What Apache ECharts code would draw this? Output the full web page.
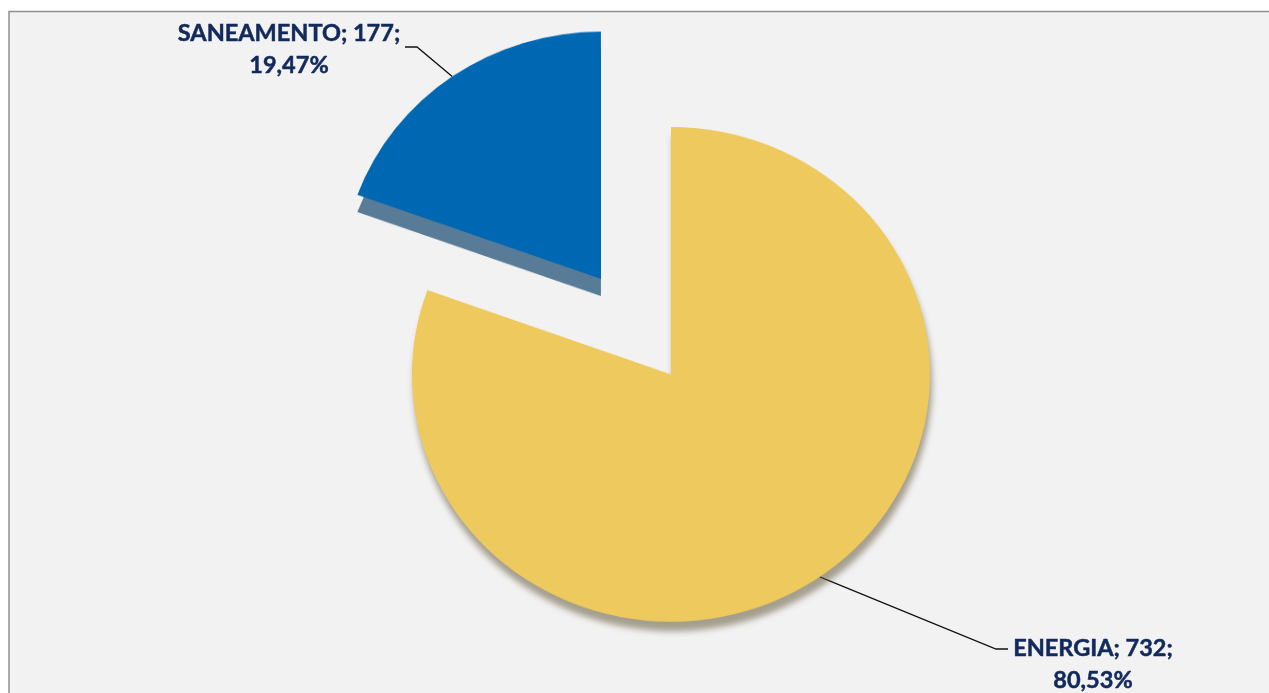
<!DOCTYPE html>
<html>
<head>
<meta charset="utf-8">
<script src="https://cdn.jsdelivr.net/npm/echarts@6/dist/echarts.min.js"></script>
<style>
  html, body { margin: 0; padding: 0; background: #ffffff; overflow: hidden; }
  .layer { position: absolute; left: 0; top: 0; width: 1269px; height: 693px; }
  /* the pie is drawn slightly flattened, as a tilted disc */
  #pie { transform: scaleY(0.955); transform-origin: 0 0; }
</style>
</head>
<body>
<div id="labels" class="layer"></div>
<div id="pie" class="layer"></div>
<script>
// Segment totals
const categories = ['ENERGIA', 'SANEAMENTO'];
const values = [732, 177];

// Pie geometry and look (pie coordinates, before the vertical flattening)
const TILT = 0.955;
const CX = 671, CY = 392, R = 259;
const EXPLODE = 122;      // offset of the pulled-out slice
const DEPTH = 18;         // visible thickness of the pulled-out slice
const START_ANGLE = 90;
const topColors = ['#EDC95E', '#0068B2'];
const sideColors = ['rgba(0,0,0,0)', '#587C98'];
const labelColor = '#12295C';
const labelFont = 'bold 23.5px Lato, "Open Sans", sans-serif';

// Label anchors (centre of each two-line label) and the elbow of its leader line
const labelBoxes = [
  { x: 1093, y: 664, elbow: [996, 649], end: [1008, 649] },
  { x: 289, y: 49, elbow: [417, 47], end: [405, 47] }
];

const total = values.reduce((a, b) => a + b, 0);
const pct = v => (v / total * 100).toFixed(2).replace('.', ',') + '%';

function sliceData(colors, withShadow) {
  return categories.map((name, i) => ({
    name: name,
    value: values[i],
    selected: i === 1,
    itemStyle: Object.assign(
      { color: colors[i], borderWidth: 0 },
      withShadow && i === 0
        ? { shadowBlur: 6, shadowOffsetX: 2, shadowOffsetY: 10, shadowColor: 'rgba(100,90,60,0.55)' }
        : {}
    )
  }));
}

const common = {
  type: 'pie',
  radius: R,
  startAngle: START_ANGLE,
  clockwise: true,
  selectedMode: 'single',
  selectedOffset: EXPLODE,
  avoidLabelOverlap: false,
  label: { show: false },
  labelLine: { show: false },
  emphasis: { disabled: true },
  silent: true,
  animation: false
};

const pieChart = echarts.init(document.getElementById('pie'));
pieChart.setOption({
  backgroundColor: 'transparent',
  animation: false,
  series: [
    Object.assign({}, common, { name: 'side', center: [CX, CY + DEPTH], z: 1, data: sliceData(sideColors, false) }),
    Object.assign({}, common, { name: 'top', center: [CX, CY], z: 2, data: sliceData(topColors, true) })
  ]
});

// Mid-angle point on the rim of each slice, in page pixels
function rimPoint(i) {
  let acc = 0;
  for (let k = 0; k < i; k++) acc += values[k];
  const mid = START_ANGLE - (acc + values[i] / 2) / total * 360;
  const rad = mid * Math.PI / 180;
  const cos = Math.cos(rad), sin = -Math.sin(rad);
  const off = i === 1 ? EXPLODE : 0;
  return [CX + (R + off) * cos, (CY + (R + off) * sin) * TILT];
}

const graphics = [
  {
    type: 'rect', z: -10, silent: true,
    shape: { x: 9, y: 11.5, width: 1270, height: 700 },
    style: { fill: '#F2F2F2', stroke: '#909090', lineWidth: 1.5 }
  }
];

categories.forEach((name, i) => {
  const box = labelBoxes[i];
  graphics.push({
    type: 'polyline', silent: true, z: 50,
    shape: { points: [rimPoint(i), box.elbow, box.end] },
    style: { stroke: '#111111', lineWidth: 1.3, fill: null }
  });
  graphics.push({
    type: 'text', silent: true, z: 50,
    style: {
      text: name + '; ' + values[i] + ';\n' + pct(values[i]),
      x: box.x, y: box.y,
      align: 'center', verticalAlign: 'middle',
      font: labelFont, lineHeight: 32,
      fill: labelColor, stroke: labelColor, lineWidth: 0.5
    }
  });
});

const labelChart = echarts.init(document.getElementById('labels'));
labelChart.setOption({
  backgroundColor: '#ffffff',
  animation: false,
  graphic: graphics
});
</script>
</body>
</html>
